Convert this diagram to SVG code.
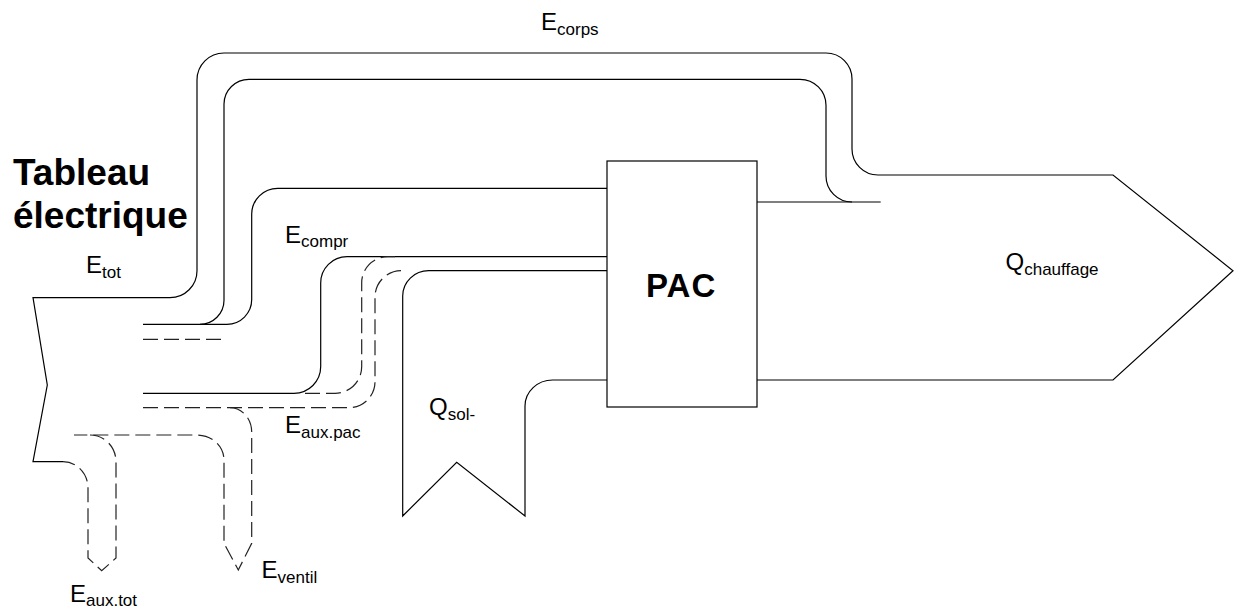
<svg xmlns="http://www.w3.org/2000/svg" width="1234" height="612" viewBox="0 0 1234 612">
<style>
.s{fill:none;stroke:#000;stroke-width:1.2}
.d{fill:none;stroke:#222;stroke-width:1.2;stroke-dasharray:15 6}
.t{font-family:"Liberation Sans",Arial,sans-serif;font-size:24px;fill:#000}
.b{font-family:"Liberation Sans",Arial,sans-serif;font-weight:bold;fill:#000}
.sub{font-size:17px}
</style>
<rect width="1234" height="612" fill="#fff"/>
<g id="connectors">
<path class="s" d="M63,461.7 H33 L47.3,385 L33,297.7 H170 A27,27 0 0 0 197,270.7 V80 A27,27 0 0 1 224,53 H826 A26,26 0 0 1 852,79 V149 A26,26 0 0 0 878,175 H1113 L1233,270.7 L1113,380 H757"/>
<path class="s" d="M143,324.3 H200 A24,24 0 0 0 224,300.3 V104 A25,25 0 0 1 249,79.3 H800 A26,26 0 0 1 826,105.3 V176 A26,26 0 0 0 852,202"/>
<path class="s" d="M757,202 H880.7"/>
<path class="s" d="M200,324.3 H227 A24.7,24.7 0 0 0 251.7,299.6 V214 A26,26 0 0 1 277.7,188.3 H607"/>
<path class="s" d="M143,393.3 H294 A26.7,26.7 0 0 0 320.7,366.6 V283 A26.3,26.3 0 0 1 347,256.7 H607"/>
<path class="d" d="M305,393.3 H335 A26.7,26.7 0 0 0 361.7,366.6 V283 A26,26 0 0 1 387.7,256.7 H395"/>
<path class="d" d="M143,407.7 H349 A26,26 0 0 0 375,381.7 V297 A26.3,26.3 0 0 1 401.3,270.7"/>
<path class="d" d="M143,339.3 H225"/>
<path class="d" d="M230,407.7 A21.7,24.3 0 0 1 251.7,432 V543.3 L238.3,570 L224,543.3 V460 A27,25 0 0 0 197,435 H74"/>
<path class="d" d="M90,435 A26,26.7 0 0 1 116,461.7 V558 L101.7,570.7 L88,558 V488 A25,26.3 0 0 0 63,461.7"/>
<path class="s" d="M607,270.7 H428.7 A26,25.3 0 0 0 402.7,296 V516 L456.7,462.3 L525,516 V406 A27.7,26 0 0 1 552.7,380 H607"/>
</g>
<g id="pac">
<rect class="s" x="607" y="161" width="150" height="246"/>
<text class="b" x="646" y="297" font-size="33" letter-spacing="1">PAC</text>
</g>
<g id="tableau">
<text class="b" x="13" y="185" font-size="37">Tableau</text>
<text class="b" x="13" y="227.5" font-size="37">électrique</text>
</g>
<g id="labels">
<text class="t" x="86" y="273">E<tspan class="sub" dy="4.5">tot</tspan></text>
<text class="t" x="541" y="30">E<tspan class="sub" dy="4.5">corps</tspan></text>
<text class="t" x="285" y="242.5">E<tspan class="sub" dy="4.5">compr</tspan></text>
<text class="t" x="285" y="433">E<tspan class="sub" dy="4.5">aux.pac</tspan></text>
<text class="t" x="429" y="415">Q<tspan class="sub" dy="4.5">sol-</tspan></text>
<text class="t" x="1005.5" y="270">Q<tspan class="sub" dy="4.5">chauffage</tspan></text>
<text class="t" x="261.5" y="578">E<tspan class="sub" dy="4.5">ventil</tspan></text>
<text class="t" x="70" y="601.7">E<tspan class="sub" dy="4.5">aux.tot</tspan></text>
</g>
</svg>
